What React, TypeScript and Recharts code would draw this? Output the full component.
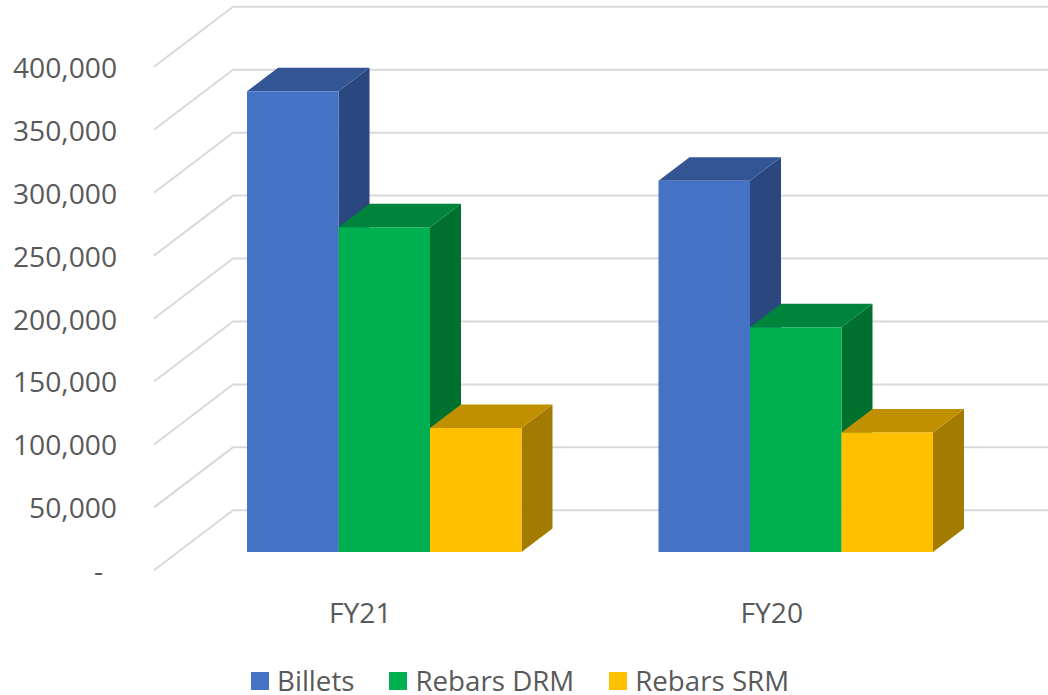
import React from "react";
import { ComposedChart, Bar, XAxis, YAxis, CartesianGrid, Legend } from "recharts";

// Fiscal years and tonnage per product line
const years = ["FY21", "FY20"];
const billets = [366000, 295000];
const rebarsDrm = [258000, 178500];
const rebarsSrm = [98500, 95000];
const yTicks = [0, 50000, 100000, 150000, 200000, 250000, 300000, 350000, 400000];

const rows = years.map((year, i) => ({
  year,
  Billets: billets[i],
  "Rebars DRM": rebarsDrm[i],
  "Rebars SRM": rebarsSrm[i],
}));

const FONT = "'Open Sans', sans-serif";
const TEXT = "#595959";
const GRID = "#D9D9D9";

// Receding offset of a column's top and side faces
const DEPTH_X = 31;
const DEPTH_Y = 23.5;

// Gridline shape: the floor-to-wall diagonal followed by the run along the back wall
const FRONT_X = 154;
const BACK_X = 233;
const FRONT_DY = 18.3;
const BACK_DY = -41.7;

const GridLine3D = (props: any) => (
  <polyline
    points={`${FRONT_X},${props.y1 + FRONT_DY} ${BACK_X},${props.y1 + BACK_DY} 1048,${props.y1 + BACK_DY}`}
    fill="none"
    stroke={GRID}
    strokeWidth={2}
  />
);

const makeColumn = (top: string, side: string) => (props: any) => {
  const { x, y, width, height, fill } = props;
  const right = x + width;
  const bottom = y + height;
  return (
    <g>
      <polygon
        points={`${right},${y} ${right + DEPTH_X},${y - DEPTH_Y} ${right + DEPTH_X},${bottom - DEPTH_Y} ${right},${bottom}`}
        fill={side}
      />
      <polygon
        points={`${x},${y} ${x + DEPTH_X},${y - DEPTH_Y} ${right + DEPTH_X},${y - DEPTH_Y} ${right},${y}`}
        fill={top}
      />
      <rect x={x} y={y} width={width} height={height} fill={fill} />
    </g>
  );
};

const ValueTick = (props: any) => {
  const { y, payload } = props;
  const v = payload.value as number;
  return (
    <text
      x={v === 0 ? 103 : 117}
      y={y + FRONT_DY + 11}
      textAnchor="end"
      fontFamily={FONT}
      fontSize={28.2}
      fill={TEXT}
    >
      {v === 0 ? "-" : v.toLocaleString("en-US")}
    </text>
  );
};

const YearTick = (props: any) => (
  <text
    x={props.x - 23.5}
    y={props.y + 71}
    textAnchor="middle"
    fontFamily={FONT}
    fontSize={28.2}
    fill={TEXT}
  >
    {props.payload.value}
  </text>
);

const LegendRow = (props: any) => (
  <div
    style={{
      height: 40,
      display: "flex",
      paddingLeft: 251,
      gap: 35,
      fontFamily: FONT,
      fontSize: 27.7,
      color: TEXT,
    }}
  >
    {(props.payload || []).map((item: any) => (
      <div key={item.value} style={{ display: "flex", alignItems: "center" }}>
        <span
          style={{
            width: 18,
            height: 18,
            background: item.color,
            marginRight: 8,
            position: "relative",
            top: 6,
          }}
        />
        <span style={{ display: "block", height: 30, lineHeight: "30px", position: "relative", top: 5 }}>
          {item.value}
        </span>
      </div>
    ))}
  </div>
);

export default function App() {
  return (
    <div style={{ position: "absolute", left: 0, top: 0, width: 1048, height: 695, background: "#fff" }}>
      <ComposedChart
        width={1048}
        height={695}
        data={rows}
        margin={{ top: 48.5, right: 47, left: 0, bottom: 0 }}
        barGap={0}
        style={{ overflow: "visible" }}
      >
        <CartesianGrid vertical={false} horizontal={(p: any) => <GridLine3D key={p.index} {...p} />} />
        <XAxis
          dataKey="year"
          height={103}
          axisLine={false}
          tickLine={false}
          tickSize={0}
          tickMargin={0}
          tick={<YearTick />}
        />
        <YAxis
          width={178}
          domain={[0, 400000]}
          ticks={yTicks}
          interval={0}
          axisLine={false}
          tickLine={false}
          tick={<ValueTick />}
        />
        <Legend verticalAlign="bottom" content={<LegendRow />} />
        <Bar dataKey="Billets" fill="#4472C4" barSize={91.5} isAnimationActive={false} shape={makeColumn("#335593", "#2A4780")} />
        <Bar dataKey="Rebars DRM" fill="#00B050" barSize={91.5} isAnimationActive={false} shape={makeColumn("#00843C", "#00702F")} />
        <Bar dataKey="Rebars SRM" fill="#FFC000" barSize={91.5} isAnimationActive={false} shape={makeColumn("#C09000", "#A37B00")} />
      </ComposedChart>
    </div>
  );
}
